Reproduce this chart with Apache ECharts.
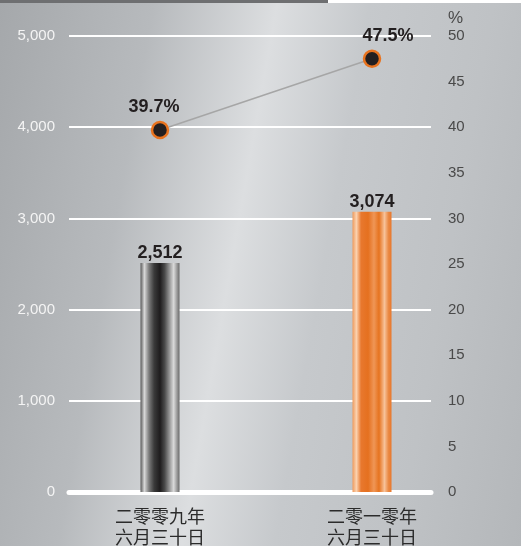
<!DOCTYPE html>
<html>
<head>
<meta charset="utf-8">
<script src="https://cdn.jsdelivr.net/npm/echarts@6/dist/echarts.min.js"></script>
<style>
html, body { margin: 0; padding: 0; }
body {
    width: 521px; height: 546px; overflow: hidden;
    background: linear-gradient(100deg, #a5a8ab 0%, #b7babd 25%, #dcdee0 45%, #c6c9cc 60%, #bfc2c5 80%, #b4b7ba 100%);
}
#main { width: 521px; height: 546px; }
</style>
</head>
<body>
<div id="main"></div>
<script>
var categories = ['二零零九年\n六月三十日', '二零一零年\n六月三十日']
var amounts = [2512, 3074]
var percents = [39.7, 47.5]
var leftTicks = [0, 5000, 1000]
var rightTicks = [0, 50, 5]

var font = '"Liberation Sans", Arial, sans-serif'

var charts = function () {

}

charts.prototype = {
    init: function () {
        this.initChart()
    },
    barColor: function (dark) {
        var stops
        if (dark) {
            stops = [
                [0, '#5a5a5a'], [0.1, '#d8d8d8'], [0.22, '#7a7a7a'], [0.35, '#3a3a3a'],
                [0.5, '#1e1c1d'], [0.62, '#4a4a4a'], [0.75, '#9a9a9a'], [0.85, '#dadada'], [1, '#6a6a6a']
            ]
        } else {
            stops = [
                [0, '#ee9a5c'], [0.1, '#fbd2b0'], [0.22, '#e8782e'], [0.4, '#e5701f'],
                [0.55, '#ef9656'], [0.68, '#e6731f'], [0.82, '#f7c29a'], [0.92, '#ea8a45'], [1, '#e8772b']
            ]
        }
        return new echarts.graphic.LinearGradient(0, 0, 1, 0, stops.map(function (s) {
            return { offset: s[0], color: s[1] }
        }))
    },
    initChart: function () {
        var myChart = echarts.init(document.getElementById('main'))
        var self = this
        // label nudges seen in the original artwork
        var labelOffsets = [[-6, 0], [16, 0]]

        var option = {
            animation: false,
            textStyle: { fontFamily: font },
            graphic: [
                { type: 'rect', shape: { x: 0, y: 0, width: 328, height: 3 }, style: { fill: '#6e6f71' } },
                { type: 'rect', shape: { x: 328, y: 0, width: 193, height: 3 }, style: { fill: '#ffffff' } }
            ],
            grid: [
                { left: 69, right: 90, top: 36, bottom: 54, outerBoundsMode: 'none' },
                { left: 54, right: 43, top: 36, bottom: 54, outerBoundsMode: 'none' }
            ],
            xAxis: [
                {
                    type: 'category', gridIndex: 0, data: categories,
                    axisLine: { lineStyle: { color: '#ffffff', width: 5 } },
                    axisTick: { show: false }, axisLabel: { show: false }
                },
                {
                    type: 'category', gridIndex: 1, data: categories,
                    axisLine: { show: false }, axisTick: { show: false },
                    axisLabel: {
                        color: '#2b2b2b', fontSize: 18, lineHeight: 21, margin: 14,
                        fontFamily: '"Noto Sans CJK SC", sans-serif'
                    }
                }
            ],
            yAxis: [
                {
                    type: 'value', gridIndex: 0, position: 'left',
                    min: leftTicks[0], max: leftTicks[1], interval: leftTicks[2],
                    axisLine: { show: false }, axisTick: { show: false },
                    splitLine: { lineStyle: { color: '#ffffff', width: 2 } },
                    axisLabel: {
                        color: '#f4f4f4', fontSize: 15, margin: 14,
                        formatter: function (v) { return v.toLocaleString('en-US') }
                    }
                },
                {
                    type: 'value', gridIndex: 0, position: 'right',
                    min: rightTicks[0], max: rightTicks[1], interval: rightTicks[2],
                    name: '%', nameLocation: 'end', nameGap: 9,
                    nameTextStyle: { color: '#4a4a4a', fontSize: 17, align: 'left', padding: [0, 0, 0, 17] },
                    axisLine: { show: false }, axisTick: { show: false }, splitLine: { show: false },
                    axisLabel: { color: '#4a4a4a', fontSize: 15, margin: 17 }
                },
                {
                    type: 'value', gridIndex: 1, show: false,
                    min: leftTicks[0], max: leftTicks[1], splitLine: { show: false }
                },
                {
                    type: 'value', gridIndex: 1, show: false,
                    min: rightTicks[0], max: rightTicks[1], splitLine: { show: false }
                }
            ],
            series: [
                {
                    type: 'bar', xAxisIndex: 1, yAxisIndex: 2, barWidth: 39,
                    data: amounts.map(function (v, i) {
                        return { value: v, itemStyle: { color: self.barColor(i === 0) } }
                    }),
                    label: {
                        show: true, position: 'top', distance: 1,
                        color: '#231f20', fontSize: 18, fontWeight: 'bold',
                        formatter: function (p) { return p.value.toLocaleString('en-US') }
                    }
                },
                {
                    type: 'line', xAxisIndex: 1, yAxisIndex: 3,
                    data: percents.map(function (v, i) {
                        return { value: v, label: { offset: labelOffsets[i] } }
                    }),
                    symbol: 'circle', symbolSize: 16,
                    lineStyle: { color: '#a6a6a6', width: 1.5 },
                    itemStyle: { color: '#231f20', borderColor: '#e8731f', borderWidth: 2.5 },
                    label: {
                        show: true, position: 'top', distance: 5,
                        color: '#231f20', fontSize: 18, fontWeight: 'bold',
                        formatter: function (p) { return p.value + '%' }
                    }
                }
            ]
        }

        myChart.setOption(option)
    }
}

new charts().init()
</script>
</body>
</html>
